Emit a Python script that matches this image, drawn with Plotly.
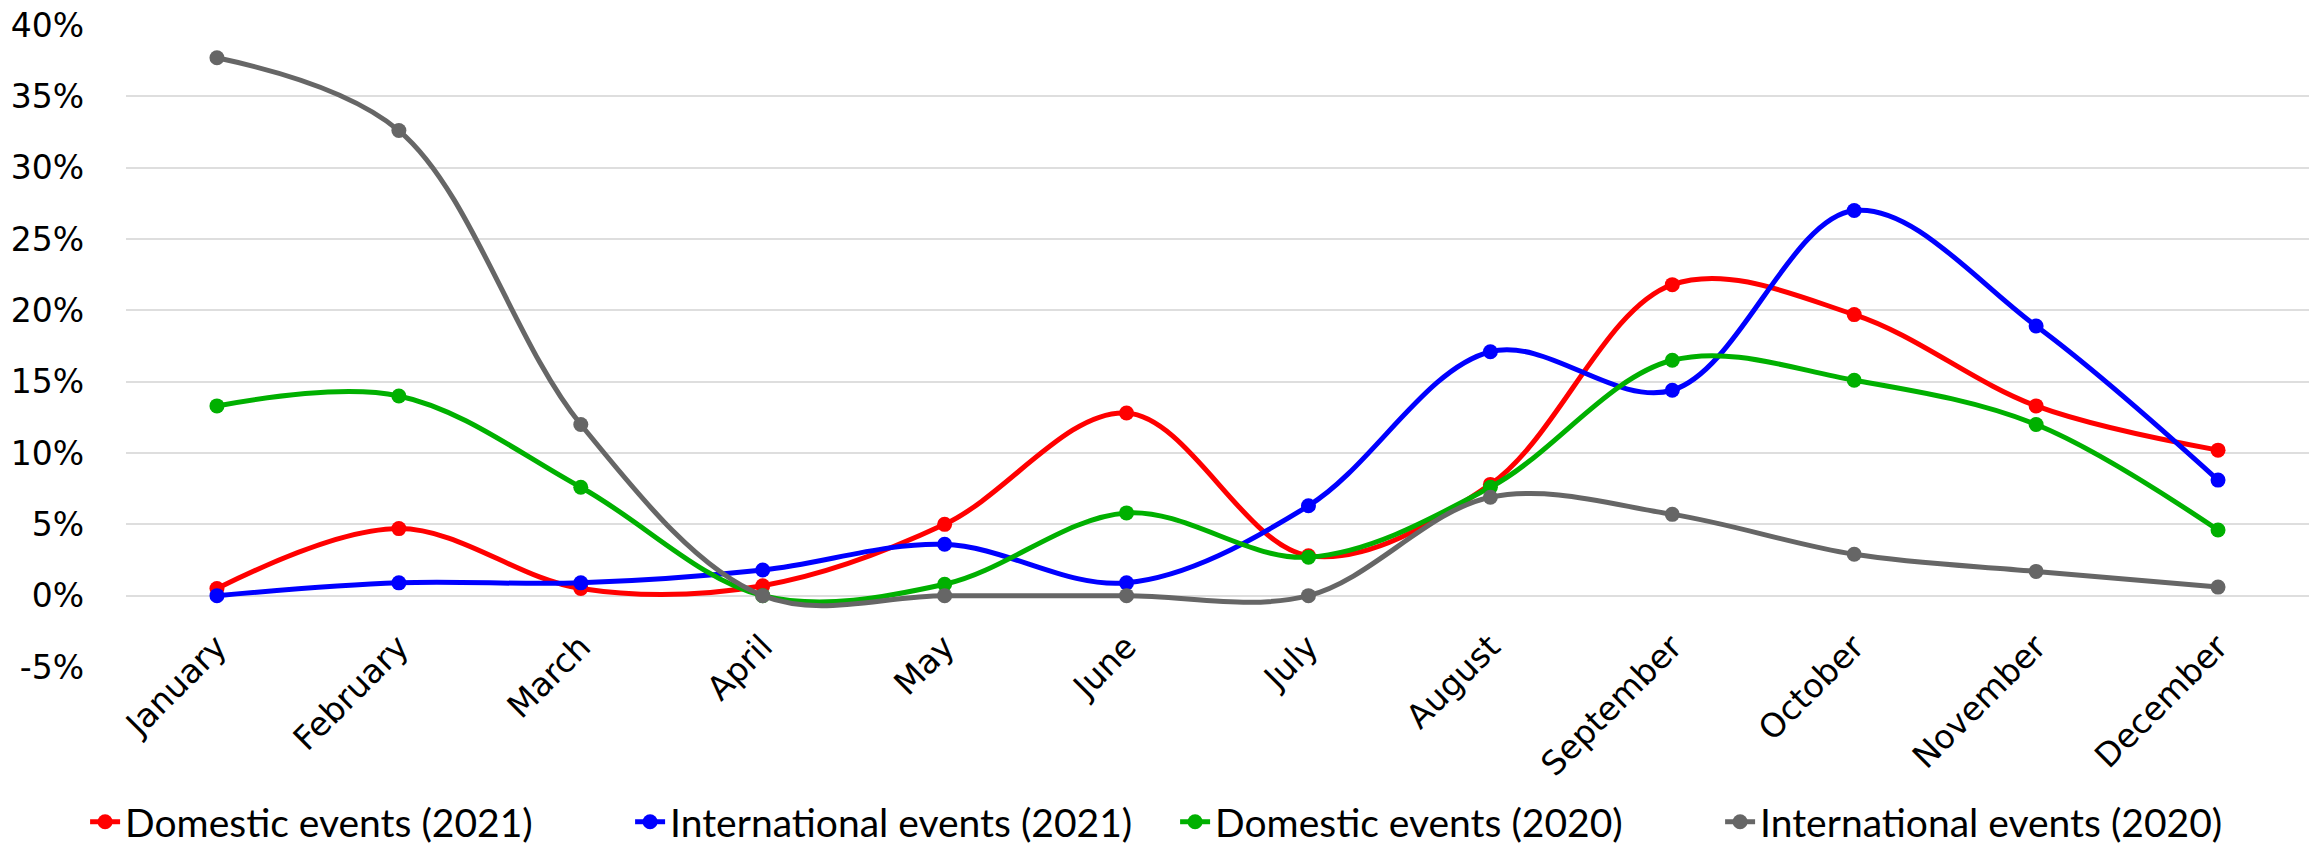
import plotly.graph_objects as go

months = ["January", "February", "March", "April", "May", "June", "July",
          "August", "September", "October", "November", "December"]

domestic_2021 = [0.5, 4.7, 0.5, 0.7, 5.0, 12.8, 2.8, 7.8, 21.8, 19.7, 13.3, 10.2]
international_2021 = [0.0, 0.9, 0.9, 1.8, 3.6, 0.9, 6.3, 17.1, 14.4, 27.0, 18.9, 8.1]
domestic_2020 = [13.3, 14.0, 7.6, 0.0, 0.8, 5.8, 2.7, 7.6, 16.5, 15.1, 12.0, 4.6]
international_2020 = [37.7, 32.6, 12.0, 0.0, 0.0, 0.0, 0.0, 6.9, 5.7, 2.9, 1.7, 0.6]

y_tick_values = [-5, 0, 5, 10, 15, 20, 25, 30, 35, 40]
y_tick_labels = ["-5%", "0%", "5%", "10%", "15%", "20%", "25%", "30%", "35%", "40%"]

series = [
    ("Domestic events (2021)", domestic_2021, "#FF0000"),
    ("International events (2021)", international_2021, "#0000FF"),
    ("Domestic events (2020)", domestic_2020, "#00B000"),
    ("International events (2020)", international_2020, "#666666"),
]

fig = go.Figure()
for name, vals, color in series:
    fig.add_trace(go.Scatter(
        x=months, y=vals, name=name, mode="lines+markers",
        line=dict(color=color, width=5, shape="spline", smoothing=1.0),
        marker=dict(color=color, size=15),
    ))

tick_font = dict(family="DejaVu Sans", size=33, color="#000000")

fig.update_layout(
    width=2315, height=846,
    margin=dict(l=126, r=6, t=25, b=179, autoexpand=False),
    paper_bgcolor="white", plot_bgcolor="white",
    showlegend=True,
    legend=dict(
        orientation="h", xref="container", yref="container",
        x=0.5076, xanchor="center", y=0.0285, yanchor="middle",
        font=dict(family="Lato, Liberation Sans", size=39, color="#000000"),
        traceorder="normal", entrywidth=500,
    ),
    xaxis=dict(
        type="category", range=[-0.5, 11.5],
        anchor="free", position=5 / 45, automargin=False,
        showgrid=False, showline=False, zeroline=False,
        tickangle=-45, tickfont=tick_font, ticks="",
        ticklabelstandoff=24,
    ),
    yaxis=dict(
        range=[-5, 40], tickmode="array", tickvals=y_tick_values,
        ticktext=y_tick_labels, automargin=False,
        showgrid=True, gridcolor="#DEDEDE", gridwidth=1.8,
        zeroline=True, zerolinecolor="#DEDEDE", zerolinewidth=1.8,
        showline=False, tickfont=tick_font, ticks="",
        ticklabelstandoff=41,
    ),
)

fig.write_html("out.html", config={"displayModeBar": False},
               post_script="document.body.style.margin='0';")
